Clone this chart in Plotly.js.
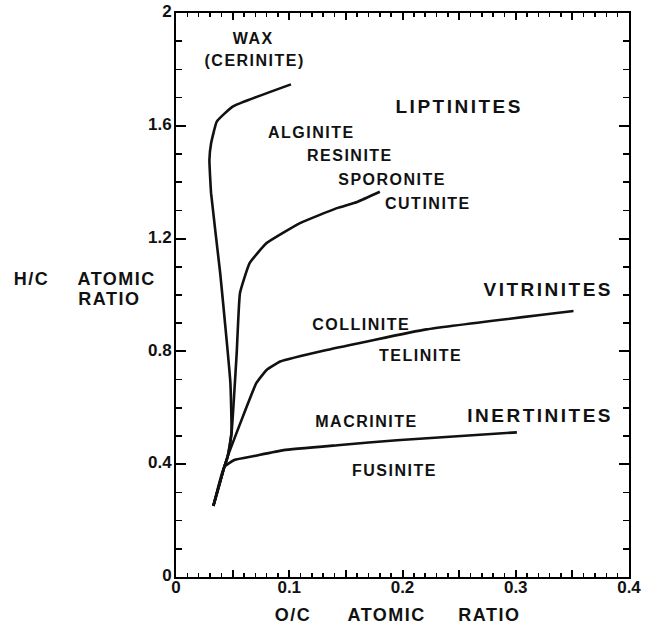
<!DOCTYPE html>
<html>
<head>
<meta charset="utf-8">
<script src="https://cdn.plot.ly/plotly-3.0.1.min.js"></script>
<style>
.xtick text, .ytick text {
  font-family: 'Liberation Sans', Arial, Helvetica, sans-serif !important;
  font-size: 17px !important;
  font-weight: 700 !important;
  fill: #111 !important;
}
</style>
</head>
<body style="margin:0">
<div id="chart"></div>
<script>
// ---- data (O/C atomic ratio, H/C atomic ratio) ----
const waxX   = [0.033, 0.0427, 0.0456, 0.049, 0.048, 0.039, 0.031, 0.0295, 0.031, 0.036, 0.050, 0.1015];
const waxY   = [0.252, 0.391, 0.427, 0.510, 0.690, 1.078, 1.360, 1.479, 1.538, 1.615, 1.668, 1.747];
const liptX  = [0.033, 0.0427, 0.0456, 0.049, 0.0536, 0.0565, 0.065, 0.080, 0.1095, 0.142, 0.160, 0.180];
const liptY  = [0.252, 0.391, 0.427, 0.510, 0.794, 1.007, 1.113, 1.184, 1.255, 1.308, 1.330, 1.366];
const vitrX  = [0.033, 0.0427, 0.0456, 0.071, 0.080, 0.092, 0.133, 0.221, 0.351];
const vitrY  = [0.252, 0.391, 0.427, 0.688, 0.734, 0.764, 0.805, 0.878, 0.943];
const inertX = [0.033, 0.0427, 0.0515, 0.069, 0.095, 0.145, 0.195, 0.301];
const inertY = [0.252, 0.391, 0.415, 0.429, 0.450, 0.468, 0.485, 0.513];

// x ticks every 0.05, labels only every 0.1
const xTickUnlabelled = ['0.05', '0.15', '0.25', '0.35'];
const yTickStep = 0.4;

const labelText = ['WAX', '(CERINITE)', 'LIPTINITES', 'ALGINITE', 'RESINITE', 'SPORONITE', 'CUTINITE',
                   'VITRINITES', 'COLLINITE', 'TELINITE', 'MACRINITE', 'INERTINITES', 'FUSINITE'];
const labelX    = [0.068, 0.0689, 0.250, 0.120, 0.1536, 0.1916, 0.2225, 0.3285, 0.1642, 0.2163, 0.1678, 0.3214, 0.1925];
const labelY    = [1.908, 1.830, 1.670, 1.578, 1.496, 1.411, 1.326, 1.018, 0.894, 0.787, 0.550, 0.571, 0.379];
const bigLabels = ['LIPTINITES', 'VITRINITES', 'INERTINITES'];

const FONT = 'Liberation Sans, Arial, Helvetica, sans-serif';
const lineStyle = {color: '#111', width: 2.6, shape: 'spline', smoothing: 0.35};

const traces = [
  {x: waxX, y: waxY, mode: 'lines', line: lineStyle, name: 'wax', hoverinfo: 'skip'},
  {x: liptX, y: liptY, mode: 'lines', line: lineStyle, name: 'liptinites', hoverinfo: 'skip'},
  {x: vitrX, y: vitrY, mode: 'lines', line: lineStyle, name: 'vitrinites', hoverinfo: 'skip'},
  {x: inertX, y: inertY, mode: 'lines', line: lineStyle, name: 'inertinites', hoverinfo: 'skip'}
];

const annotations = labelText.map((t, i) => ({
  x: labelX[i], y: labelY[i], xref: 'x', yref: 'y', text: t, showarrow: false,
  xanchor: 'center', yanchor: 'middle',
  font: {family: FONT, size: bigLabels.includes(t) ? 19 : 16, color: '#111', weight: 'bold'}
}));

const titleFont = {family: FONT, size: 18, color: '#111', weight: 'bold'};
annotations.push(
  {x: 0.258, y: -0.0674, xref: 'paper', yref: 'paper', text: 'O/C', showarrow: false, xanchor: 'center', yanchor: 'middle', font: titleFont},
  {x: 0.4647, y: -0.0674, xref: 'paper', yref: 'paper', text: 'ATOMIC', showarrow: false, xanchor: 'center', yanchor: 'middle', font: titleFont},
  {x: 0.693, y: -0.0674, xref: 'paper', yref: 'paper', text: 'RATIO', showarrow: false, xanchor: 'center', yanchor: 'middle', font: titleFont},
  {x: -0.320, y: 0.528, xref: 'paper', yref: 'paper', text: 'H/C', showarrow: false, xanchor: 'center', yanchor: 'middle', font: titleFont},
  {x: -0.212, y: 0.528, xref: 'paper', yref: 'paper', text: 'ATOMIC', showarrow: false, xanchor: 'left', yanchor: 'middle', font: titleFont},
  {x: -0.212, y: 0.493, xref: 'paper', yref: 'paper', text: 'RATIO', showarrow: false, xanchor: 'left', yanchor: 'middle', font: titleFont}
);

const xAlias = {};
xTickUnlabelled.forEach(k => { xAlias[k] = ' '; });

const layout = {
  width: 650, height: 627,
  margin: {l: 176, r: 21, t: 13, b: 50},
  showlegend: false,
  xaxis: {
    range: [0, 0.4], showgrid: false, zeroline: false,
    showline: true, linecolor: 'black', linewidth: 2, mirror: 'allticks',
    ticks: 'inside', ticklen: 7, tickwidth: 2, tickcolor: 'black',
    dtick: 0.05, labelalias: xAlias,
    minor: {dtick: 0.01, ticks: 'inside', ticklen: 4, tickwidth: 1.5, tickcolor: 'black'}
  },
  yaxis: {
    range: [0, 2], showgrid: false, zeroline: false,
    showline: true, linecolor: 'black', linewidth: 2, mirror: 'allticks',
    ticks: 'inside', ticklen: 10, tickwidth: 2, tickcolor: 'black',
    dtick: yTickStep,
    minor: {dtick: 0.1, ticks: 'inside', ticklen: 6, tickwidth: 1.5, tickcolor: 'black'}
  },
  annotations: annotations
};

Plotly.newPlot('chart', traces, layout, {displayModeBar: false, staticPlot: true}).then(() => {
  document.querySelectorAll('.annotation-text').forEach(el => {
    const t = el.textContent;
    el.style.letterSpacing = bigLabels.includes(t) ? '2.5px' : '1.5px';
  });
});
</script>
</body>
</html>
